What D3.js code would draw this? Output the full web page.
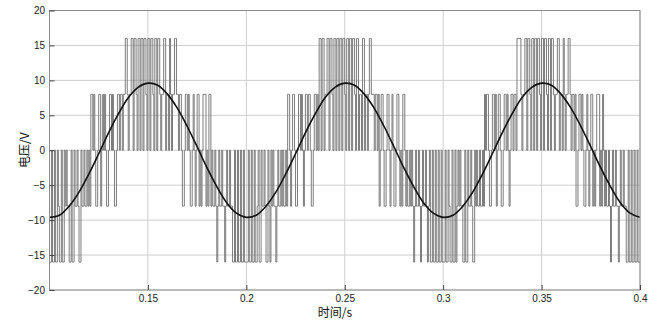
<!DOCTYPE html>
<html>
<head>
<meta charset="utf-8">
<script src="https://cdn.jsdelivr.net/npm/d3@7"></script>
<style>
  body { margin: 0; background: #fff; }
  .tick-label { font-family: "Liberation Sans", Arial, sans-serif; font-size: 10px; fill: #222; }
  .axis-title { font-family: "Noto Sans CJK SC", "Liberation Serif", serif; font-size: 12px; fill: #111; }
</style>
</head>
<body>
<svg id="chart" width="652" height="325"></svg>
<script>
// Axis ticks
const xTickValues = [0.15, 0.2, 0.25, 0.3, 0.35, 0.4];
const yTickValues = [-20, -15, -10, -5, 0, 5, 10, 15, 20];

// Sinusoidal reference voltage (V), sampled every 5 ms from 0.1 s to 0.4 s
const refStart = 0.1;
const refStep = 0.005;
const refVolts = [
  -9.6, -9.3, -8.0, -6.0, -3.4, -0.5, 2.5, 5.2, 7.5, 9.0,
   9.6,  9.3,  8.0,  6.0,  3.4,  0.5, -2.5, -5.2, -7.5, -9.0,
  -9.6, -9.3, -8.0, -6.0, -3.4, -0.5, 2.5, 5.2, 7.5, 9.0,
   9.6,  9.3,  8.0,  6.0,  3.4,  0.5, -2.5, -5.2, -7.5, -9.0,
  -9.6, -9.3, -8.0, -6.0, -3.4, -0.5, 2.5, 5.2, 7.5, 9.0,
   9.6,  9.3,  8.0,  6.0,  3.4,  0.5, -2.5, -5.2, -7.5, -9.0,
  -9.6
];

// Five-level inverter output: one level code per 0.5 ms slot (code x 8 V)
const pwmStart = 0.1;
const pwmSlot = 0.0005;
const levelStep = 8;
const pwmCycle1 = [
  -2,-2,0,-2,-2,0,-2,-2,0,-1,-2,-2,0,-2,-2,0,-1,
  0,-1,-1,
  -2,-2,0,-2,-2,0,
  -1,-1,0,-1,
  -2,-2,0,
  -1,-1,0,-1,-1,0,-1,0,-1,
  1,1,0,1,0,-1,-1,0,1,1,-1,0,1,0,1,0,-1,-1,0,1,1,0,1,0,-1,-1,0,1,1,0,1,1,0,1,1,
  2,2,1,0,1,1,2,2,0,2,2,1,0,2,2,0,2,2,0,2,2,1,0,2,2,0,2,2,1,0,2,2,0,2,2,1,0,1,1,2,2,0,1,1,0,2,1,0,1,1,2,2,
  1,1,0,1,1,0,-1,-1,0,1,1,0,1,0,-1,-1,0,1,0,-1,0,1,1,-1,0,-1,0,1,1,1,-1,0,-1,1,1,
  -1,0,-1,-1,0,-1,
  -2,-1,0,-1,-1,0,-1,-1,-2,-1,0,-1,-1,0,-1,-1,-2,-2,0,-2,-2,0,-2,-2,0,-2,-2,0,-2,-2
];
const pwmCycle2 = [
  -2,-2,0,-2,-2,0,-2,-2,0,-2,-2,-1,0,-2,-2,0,-1,
  -1,0,-1,
  -2,-2,0,-1,-2,0,
  -1,0,-1,-1,
  -2,-1,0,
  -1,-1,0,-1,0,-1,-1,0,-1,
  1,1,0,-1,0,1,1,0,-1,-1,0,1,1,0,1,0,-1,0,1,1,0,1,1,0,-1,-1,0,1,1,0,1,0,2,2,0,
  2,2,0,1,1,2,2,0,2,2,1,0,2,2,0,2,2,0,2,2,0,2,2,1,0,2,2,0,2,2,0,2,2,1,0,2,2,0,1,1,0,2,2,0,1,1,0,1,2,2,1,1,
  1,0,1,1,0,1,-1,0,1,1,0,-1,-1,0,1,1,0,-1,0,1,0,-1,-1,0,1,1,0,-1,0,-1,1,1,0,-1,0,
  -1,-1,0,-1,0,-1,
  -2,-1,0,-1,-1,0,-1,-2,-1,0,-1,-1,0,-1,-2,-1,0,-2,-2,0,-2,-2,0,-2,-2,0,-2,-2,0,-2
];
const pwmCycle3 = [
  -2,-2,0,-2,-2,0,-1,-2,-2,0,-2,-2,0,-2,-1,0,-1,
  0,-1,-1,
  -2,-2,0,-2,-2,0,
  -1,-1,0,-1,
  -2,-2,0,
  -1,0,-1,-1,0,-1,-1,0,-1,
  1,0,1,1,0,-1,-1,0,1,1,0,1,-1,0,1,1,0,-1,-1,0,1,1,0,1,0,-1,0,1,1,0,1,1,0,2,2,
  2,2,1,0,1,1,2,2,0,2,2,1,0,2,2,0,2,2,0,2,2,1,0,2,2,0,2,2,1,0,2,2,0,2,2,1,0,1,1,2,2,0,1,1,0,2,1,0,1,1,2,2,
  1,0,1,1,0,1,-1,-1,0,1,1,0,1,0,-1,-1,0,1,0,-1,0,1,1,-1,0,-1,0,1,1,1,-1,0,-1,1,0,
  -1,0,-1,-1,0,-1,
  -2,-1,0,-1,-1,0,-1,-1,-2,-1,0,-1,-1,0,-1,-1,-2,-2,0,-2,-2,0,-2,-2,0,-2,-2,0,-2,-2
];

const svg = d3.select("#chart");
const margin = { left: 49.5, right: 12, top: 10.5, bottom: 35 };
const W = 652, H = 325;
const x = d3.scaleLinear().domain([0.1, 0.4]).range([margin.left, W - margin.right]);
const y = d3.scaleLinear().domain([-20, 20]).range([H - margin.bottom, margin.top]);

// gridlines
const grid = svg.append("g");
grid.selectAll("line.gx").data(xTickValues).join("line")
  .attr("x1", d => x(d)).attr("x2", d => x(d))
  .attr("y1", y(-20)).attr("y2", y(20))
  .attr("stroke", "#cfcfcf").attr("stroke-width", 1);
grid.selectAll("line.gy").data(yTickValues).join("line")
  .attr("x1", x(0.1)).attr("x2", x(0.4))
  .attr("y1", d => y(d)).attr("y2", d => y(d))
  .attr("stroke", "#cfcfcf").attr("stroke-width", 1);

svg.append("defs").append("clipPath").attr("id", "plot-clip")
  .append("rect").attr("x", x(0.1)).attr("y", y(20))
  .attr("width", x(0.4) - x(0.1)).attr("height", y(-20) - y(20));

// inverter output waveform
const pwmCodes = pwmCycle1.concat(pwmCycle2, pwmCycle3);
const pwmPoints = pwmCodes.map((c, i) => [pwmStart + i * pwmSlot, c * levelStep]);
pwmPoints.push([pwmStart + pwmCodes.length * pwmSlot, pwmCodes[pwmCodes.length - 1] * levelStep]);
svg.append("path")
  .attr("clip-path", "url(#plot-clip)")
  .attr("d", d3.line().x(d => x(d[0])).y(d => y(d[1])).curve(d3.curveStepAfter)(pwmPoints))
  .attr("fill", "none").attr("stroke", "#6e6e6e").attr("stroke-width", 0.9);

// reference sine
const refPoints = refVolts.map((v, i) => [refStart + i * refStep, v]);
svg.append("path")
  .attr("clip-path", "url(#plot-clip)")
  .attr("d", d3.line().x(d => x(d[0])).y(d => y(d[1])).curve(d3.curveCatmullRom)(refPoints))
  .attr("fill", "none").attr("stroke", "#111").attr("stroke-width", 1.6);

// axes box
svg.append("rect")
  .attr("x", x(0.1)).attr("y", y(20))
  .attr("width", x(0.4) - x(0.1)).attr("height", y(-20) - y(20))
  .attr("fill", "none").attr("stroke", "#8a8a8a").attr("stroke-width", 1);

// bottom axis with inward ticks
const xAxis = d3.axisBottom(x).tickValues(xTickValues).tickSize(-5).tickPadding(5)
  .tickFormat(d => String(d));
const gx = svg.append("g").attr("transform", `translate(0,${y(-20)})`).call(xAxis);
gx.select(".domain").remove();
gx.selectAll(".tick line").attr("stroke", "#444");
gx.selectAll(".tick text").attr("class", "tick-label").attr("fill", null);

// left axis with inward ticks
const yAxis = d3.axisLeft(y).tickValues(yTickValues).tickSize(-5).tickPadding(4.5);
const gy = svg.append("g").attr("transform", `translate(${x(0.1)},0)`).call(yAxis);
gy.select(".domain").remove();
gy.selectAll(".tick line").attr("stroke", "#444");
gy.selectAll(".tick text").attr("class", "tick-label").attr("fill", null);

// axis titles
svg.append("text").attr("class", "axis-title")
  .attr("transform", `translate(29,${y(0)}) rotate(-90)`)
  .attr("text-anchor", "middle").text("电压/V");
svg.append("text").attr("class", "axis-title")
  .attr("x", 335).attr("y", 317)
  .attr("text-anchor", "middle").text("时间/s");
</script>
</body>
</html>
